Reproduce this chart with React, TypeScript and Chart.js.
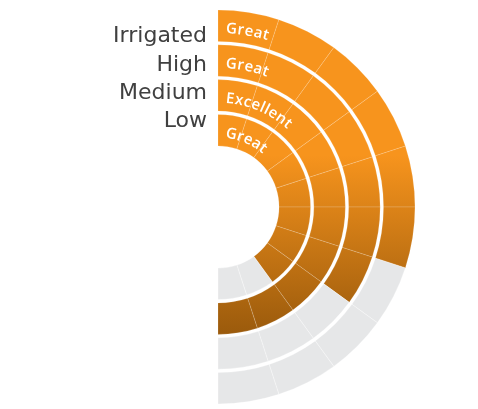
import React, { useEffect, useRef } from "react";
import { Chart, registerables } from "chart.js";

Chart.register(...registerables);

// ---- data ----
const categories = ["Irrigated", "High", "Medium", "Low"];
const ratings = ["Great", "Great", "Excellent", "Great"];
const filledSegments = [6, 7, 10, 8];
const segmentValues = [1, 1, 1, 1, 1, 1, 1, 1, 1, 1];

// ---- styles ----
const ORANGE = "#F7941D";
const BROWN = "#9A5A0C";
const GRAY = "#E6E7E8";
const LABEL_COLOR = "#404040";
const SPACER_WEIGHT = 0.105;

const ringIndices: number[] = [];

function buildDatasets() {
  const ds: any[] = [];
  categories.forEach((cat, i) => {
    if (i > 0) {
      ds.push({
        label: "spacer" + i,
        data: [1],
        backgroundColor: "rgba(0,0,0,0)",
        borderWidth: 0,
        weight: SPACER_WEIGHT,
      });
    }
    ringIndices.push(ds.length);
    const filled = filledSegments[i];
    ds.push({
      label: cat,
      data: segmentValues.slice(),
      weight: 1,
      borderWidth: 0.8,
      borderAlign: "center",
      borderColor: (c: any) =>
        c.dataIndex < filled ? "rgba(255,255,255,0.2)" : "rgba(255,255,255,0.4)",
      backgroundColor: (c: any) => {
        if (c.dataIndex >= filled) return GRAY;
        const chart = c.chart;
        const area = chart.chartArea;
        if (!area) return ORANGE;
        const g = chart.ctx.createLinearGradient(0, area.top + 145, 0, area.top + 325);
        g.addColorStop(0, ORANGE);
        g.addColorStop(1, BROWN);
        return g;
      },
    });
  });
  return ds;
}

const ringTextPlugin = {
  id: "ringText",
  afterDatasetsDraw(chart: any) {
    const ctx = chart.ctx as CanvasRenderingContext2D;
    ringIndices.forEach((di, i) => {
      const meta = chart.getDatasetMeta(di);
      const arc = meta.data[0];
      if (!arc) return;
      const { x, y, innerRadius, outerRadius, startAngle } = arc.getProps(
        ["x", "y", "innerRadius", "outerRadius", "startAngle"],
        true
      );
      const r = (innerRadius + outerRadius) / 2 - 3;
      ctx.save();
      ctx.font = "600 15px 'Open Sans'";
      ctx.fillStyle = "#ffffff";
      ctx.textAlign = "center";
      ctx.textBaseline = "middle";
      let s = 8;
      for (const ch of ratings[i]) {
        const w = ctx.measureText(ch).width;
        const a = startAngle + (s + w / 2) / r;
        ctx.save();
        ctx.translate(x + r * Math.cos(a), y + r * Math.sin(a));
        ctx.rotate(a + Math.PI / 2);
        ctx.fillText(ch, 0, 0);
        ctx.restore();
        s += w + 0.7;
      }
      ctx.restore();
    });
  },
};

const sideLabelPlugin = {
  id: "sideLabels",
  afterDraw(chart: any) {
    const ctx = chart.ctx as CanvasRenderingContext2D;
    const baselines = [42, 71, 99, 127];
    ctx.save();
    ctx.font = "22px 'DejaVu Sans'";
    ctx.fillStyle = LABEL_COLOR;
    ctx.textAlign = "right";
    ctx.textBaseline = "alphabetic";
    categories.forEach((c, i) => ctx.fillText(c, 207, baselines[i]));
    ctx.restore();
  },
};

export default function App() {
  const ref = useRef<HTMLCanvasElement | null>(null);
  useEffect(() => {
    if (!ref.current) return;
    ringIndices.length = 0;
    const chart = new Chart(ref.current, {
      type: "doughnut",
      data: { labels: segmentValues.map((_, i) => "s" + i), datasets: buildDatasets() },
      options: {
        responsive: false,
        animation: false,
        events: [],
        rotation: 0,
        circumference: 180,
        radius: 197,
        cutout: "31%",
        layout: { padding: { left: 218, right: 63, top: 10, bottom: 5 } },
        plugins: { legend: { display: false }, tooltip: { enabled: false } },
      } as any,
      plugins: [ringTextPlugin, sideLabelPlugin],
    });
    return () => chart.destroy();
  }, []);
  return (
    <div style={{ position: "fixed", left: 0, top: 0, width: 478, height: 409, background: "#fff" }}>
      <canvas ref={ref} width={478} height={409} style={{ display: "block" }} />
    </div>
  );
}
